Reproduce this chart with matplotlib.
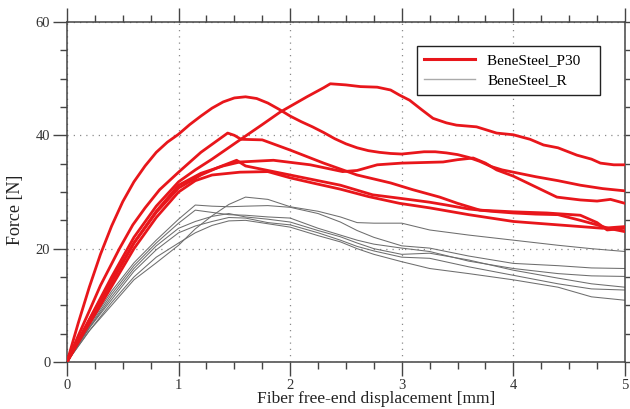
import numpy as np
import matplotlib.pyplot as plt
from matplotlib.ticker import MultipleLocator
from matplotlib.lines import Line2D

plt.rcParams['font.family'] = ['Liberation Serif', 'DejaVu Serif']

# BeneSteel_P30 (red)
p30_a_x = [0, 0.1, 0.2, 0.3, 0.4, 0.5, 0.6, 0.7, 0.8, 0.9, 1.0, 1.1, 1.2, 1.3, 1.4, 1.5, 1.6, 1.7, 1.8, 1.9, 2.0,
           2.1, 2.2, 2.3, 2.4, 2.5, 2.6, 2.7, 2.8, 2.9, 3.0, 3.1, 3.2, 3.3, 3.4, 3.5, 3.6, 3.7, 3.8, 3.9, 4.0,
           4.2, 4.4, 4.6, 4.8, 5.0]
p30_a_y = [0, 6.8, 13.2, 19.0, 24.0, 28.3, 31.8, 34.6, 37.0, 38.8, 40.2, 41.9, 43.4, 44.8, 45.9, 46.6, 46.8, 46.5, 45.7, 44.6, 43.4,
           42.4, 41.5, 40.5, 39.4, 38.5, 37.8, 37.3, 37.0, 36.8, 36.7, 36.9, 37.1, 37.1, 36.9, 36.6, 36.1, 35.4, 34.5, 33.9, 33.5,
           32.7, 32.0, 31.2, 30.6, 30.2]
p30_b_x = [0, 0.1, 0.2, 0.3, 0.47, 0.59, 0.7, 0.83, 1.0, 1.2, 1.44, 1.5, 1.56, 1.75, 2.0, 2.3, 2.6, 2.9, 3.1, 3.34,
           3.5, 3.7, 4.0, 4.3, 4.6, 4.75, 4.84, 5.0]
p30_b_y = [0, 4.6, 9.0, 13.5, 20.0, 24.2, 27.2, 30.4, 33.5, 37.0, 40.4, 40.0, 39.3, 39.2, 37.4, 35.1, 33.0, 31.6, 30.4, 29.1,
           28.0, 26.8, 26.5, 26.3, 25.9, 24.6, 23.3, 23.6]
p30_c_x = [0, 0.15, 0.3, 0.45, 0.6, 0.8, 1.0, 1.2, 1.4, 1.55, 1.85, 2.18, 2.47, 2.6, 2.78, 3.0, 3.37, 3.5, 3.64,
           3.75, 3.85, 4.0, 4.2, 4.39, 4.6, 4.75, 4.87, 5.0]
p30_c_y = [0, 5.3, 10.5, 15.8, 21.0, 26.6, 31.2, 33.3, 34.6, 35.3, 35.6, 34.8, 33.6, 33.8, 34.8, 35.1, 35.3, 35.7, 36.0,
           35.1, 33.9, 32.8, 30.9, 29.1, 28.6, 28.4, 28.7, 28.0]
p30_d_x = [0, 0.2, 0.4, 0.6, 0.8, 1.0, 1.15, 1.3, 1.55, 1.75, 1.91, 2.15, 2.3, 2.36, 2.5, 2.63, 2.78, 2.9, 2.98, 3.07,
           3.18, 3.28, 3.4, 3.49, 3.67, 3.85, 4.0, 4.15, 4.27, 4.4, 4.57, 4.7, 4.78, 4.9, 5.0]
p30_d_y = [0, 7.5, 15.0, 22.0, 27.5, 31.8, 33.9, 35.8, 39.2, 41.9, 44.1, 46.8, 48.4, 49.1, 48.9, 48.6, 48.5, 48.0, 47.1, 46.2,
           44.5, 43.0, 42.2, 41.8, 41.5, 40.4, 40.1, 39.3, 38.3, 37.8, 36.5, 35.8, 35.1, 34.8, 34.8]
p30_e_x = [0, 0.15, 0.3, 0.45, 0.6, 0.8, 1.0, 1.2, 1.35, 1.52, 1.6, 1.8, 2.0, 2.2, 2.45, 2.74, 2.98, 3.25, 3.4, 3.6,
           3.8, 4.0, 4.2, 4.4, 4.6, 4.75, 4.85, 5.0]
p30_e_y = [0, 5.6, 11.0, 16.0, 21.0, 26.4, 30.7, 33.0, 34.3, 35.6, 34.6, 33.8, 33.0, 32.2, 31.2, 29.5, 28.9, 28.2, 27.7, 27.0,
           26.6, 26.3, 26.1, 26.0, 25.0, 24.2, 23.6, 23.0]
p30_f_x = [0, 0.15, 0.3, 0.45, 0.6, 0.8, 1.0, 1.15, 1.3, 1.55, 1.8, 2.0, 2.2, 2.45, 2.7, 2.98, 3.25, 3.6, 4.0, 4.4,
           4.8, 5.0]
p30_f_y = [0, 5.1, 10.0, 15.0, 20.0, 25.5, 30.0, 32.0, 33.0, 33.5, 33.6, 32.5, 31.6, 30.5, 29.2, 28.0, 27.2, 26.0, 24.8, 24.2,
           23.6, 23.9]

# BeneSteel_R (grey)
r_x = [0, 0.2, 0.4, 0.6, 0.8, 1.0, 1.15, 1.3, 1.45, 1.6, 1.8, 2.0, 2.25, 2.45, 2.6, 2.75, 3.0, 3.25, 3.6, 4.0, 4.4, 4.7, 5.0]
r1_y = [0, 5.5, 10.0, 14.5, 17.5, 20.6, 23.5, 25.8, 27.8, 29.1, 28.7, 27.4, 26.6, 25.6, 24.6, 24.5, 24.5, 23.3, 22.4, 21.5, 20.6, 20.0, 19.5]
r2_y = [0, 6.5, 12.5, 17.5, 21.5, 25.2, 27.7, 27.5, 27.4, 27.5, 27.6, 27.3, 26.2, 24.7, 23.2, 22.0, 20.5, 20.1, 18.7, 17.4, 17.0, 16.6, 16.5]
r3_y = [0, 6.2, 12.0, 17.0, 21.0, 24.5, 26.8, 26.4, 26.0, 25.9, 25.6, 25.4, 23.6, 22.4, 21.5, 20.8, 20.1, 19.5, 17.8, 16.5, 15.6, 15.2, 15.1]
r4_y = [0, 6.0, 11.5, 16.5, 20.5, 23.6, 24.8, 25.7, 26.2, 25.6, 25.2, 24.7, 23.2, 22.1, 21.0, 20.0, 19.0, 19.2, 18.0, 16.2, 14.8, 13.8, 13.2]
r5_y = [0, 6.0, 11.0, 16.0, 19.8, 22.8, 24.0, 24.8, 25.5, 25.4, 24.6, 24.2, 22.8, 21.5, 20.4, 19.6, 18.5, 18.3, 16.8, 15.3, 13.8, 12.9, 12.7]
r6_y = [0, 5.5, 10.5, 15.0, 18.5, 21.0, 22.8, 24.1, 24.9, 25.0, 24.4, 23.8, 22.3, 21.2, 20.0, 19.0, 17.7, 16.5, 15.6, 14.5, 13.2, 11.5, 10.9]

fig = plt.figure(figsize=(6.3, 4.09), dpi=100)
ax = fig.add_axes([0.1063, 0.1149, 0.8857, 0.8313])

red = '#e8161b'
grey = '#6e6e6e'
for y in [r1_y, r2_y, r3_y, r4_y, r5_y, r6_y]:
    ax.plot(r_x, y, color=grey, lw=0.75, zorder=2)

reds = [(p30_a_x, p30_a_y), (p30_b_x, p30_b_y), (p30_c_x, p30_c_y),
        (p30_d_x, p30_d_y), (p30_e_x, p30_e_y), (p30_f_x, p30_f_y)]
for x, y in reds:
    ax.plot(x, y, color=red, lw=2.0, zorder=3, solid_joinstyle='round')

ax.set_xlim(0, 5)
ax.set_ylim(0, 60)
ax.xaxis.set_major_locator(MultipleLocator(1))
ax.xaxis.set_minor_locator(MultipleLocator(0.25))
ax.yaxis.set_major_locator(MultipleLocator(20))
ax.yaxis.set_minor_locator(MultipleLocator(5))
ax.tick_params(which='both', direction='out', top=True, right=True,
               color='#444444', width=1.0, labelsize=10.5, labelcolor='#333333')
ax.tick_params(which='major', length=10, pad=2)
ax.tick_params(which='minor', length=5)
for s in ax.spines.values():
    s.set_color('#444444')
    s.set_linewidth(1.1)

ax.grid(True, which='major', color='#8a8a8a', linestyle=(0, (1, 4)), lw=0.9)

ax.set_xlabel('Fiber free-end displacement [mm]', fontsize=12.5, color='#222222', va='center')
ax.xaxis.set_label_coords(0.554, -0.11)
ax.set_ylabel('Force [N]', fontsize=13, color='#222222')
ax.yaxis.set_label_coords(-0.077, 0.447)

handles = [Line2D([], [], color=red, lw=2.2), Line2D([], [], color='#aaaaaa', lw=1.0)]
leg = ax.legend(handles, ['BeneSteel_P30   ', 'BeneSteel_R'], loc='upper left',
                bbox_to_anchor=(0.627, 0.929), fontsize=11, fancybox=False,
                framealpha=1, edgecolor='#222222', handlelength=3.3,
                borderpad=0.5, labelspacing=0.4, borderaxespad=0)
leg.get_frame().set_linewidth(1.0)

fig.savefig('out.png', dpi=100)
